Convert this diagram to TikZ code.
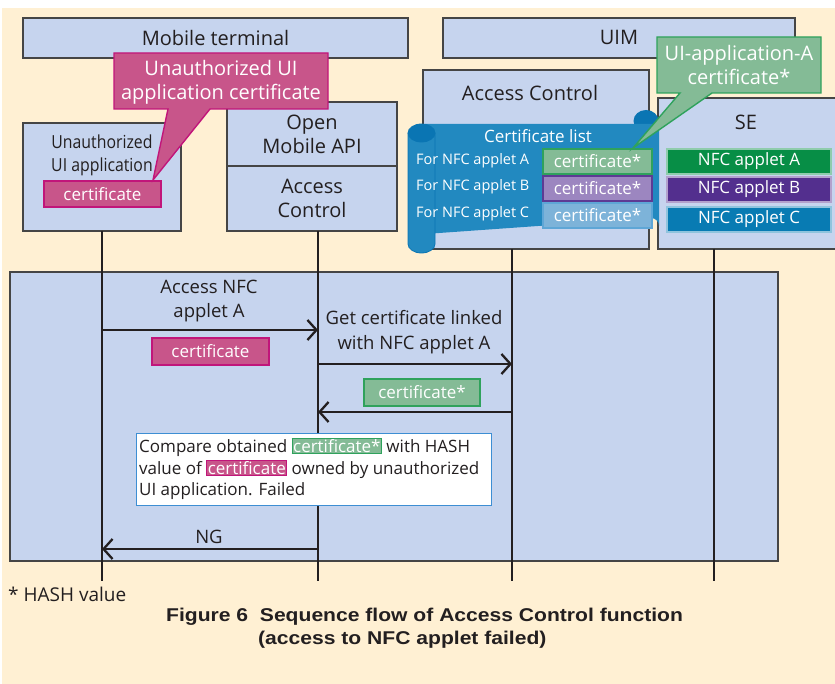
\documentclass[tikz,border=0pt]{standalone}
\usepackage{fontspec}
\setmainfont{Open Sans}
\newfontfamily\narrowfont{Open Sans}[FakeStretch=0.88]
\newfontfamily\captionfont{Liberation Sans}[FakeStretch=1.14]
\usetikzlibrary{arrows.meta}

\definecolor{cream}{HTML}{FFF0D3}
\definecolor{paleblue}{HTML}{C6D4EE}
\definecolor{edgegray}{HTML}{454545}
\definecolor{ink}{HTML}{231F20}
\definecolor{magfill}{HTML}{C8558A}
\definecolor{magedge}{HTML}{C1157A}
\definecolor{grnfill}{HTML}{84BB96}
\definecolor{grnedge}{HTML}{2FA25C}
\definecolor{purfill}{HTML}{9C86C0}
\definecolor{puredge}{HTML}{5D3B94}
\definecolor{skyfill}{HTML}{7DB3D9}
\definecolor{skyedge}{HTML}{5EA6D6}
\definecolor{scrollbody}{HTML}{2289C0}
\definecolor{scrolldark}{HTML}{0A75B3}
\definecolor{appA}{HTML}{078E46}
\definecolor{appB}{HTML}{532F8E}
\definecolor{appC}{HTML}{087BB3}
\definecolor{noteedge}{HTML}{3D8ED3}

\newcommand\fs[2]{\fontsize{#1}{#2}\selectfont}
\newcommand\certg[1]{{\setlength\fboxsep{0.5pt}\setlength\fboxrule{1pt}\fcolorbox{grnedge}{grnfill}{\color{white}#1}}}
\newcommand\certm[1]{{\setlength\fboxsep{0.5pt}\setlength\fboxrule{1pt}\fcolorbox{magedge}{magfill}{\color{white}#1}}}

\tikzset{
  frame/.style={draw=edgegray, fill=paleblue, line width=1.1pt, inner sep=0pt, outer sep=0pt, anchor=north west},
  label20/.style={text=ink, font=\fs{20}{24}, align=center, inner sep=0pt},
  tagbox/.style={anchor=north west, inner sep=0pt, outer sep=0pt, line width=1.4pt, text=white, font=\fs{17}{20}},
  appbox/.style={anchor=north west, inner sep=0pt, outer sep=0pt, line width=1.5pt, text=white, font=\fs{17}{20}, minimum width=164pt, minimum height=25pt},
  rowlabel/.style={anchor=west, text=white, font=\fs{14.5}{17}, inner sep=0pt},
  msg/.style={draw=ink, line width=2.3pt, -{Straight Barb[length=9pt,width=20pt]}},
  life/.style={draw=ink, line width=2pt},
  seqlabel/.style={text=ink, font=\fs{18.5}{24.5}, align=center, inner sep=0pt},
}

\begin{document}
\begin{tikzpicture}[x=1pt, y=-1pt]
  % page and background
  \useasboundingbox (0,0) rectangle (835,684);
  \fill[white] (0,0) rectangle (835,684);
  \fill[cream] (2,8) rectangle (835,684);

  % sequence area
  \node[frame, minimum width=768pt, minimum height=289pt] (seqarea) at (10,272) {};

  % top-level groups
  \node[frame, minimum width=385pt, minimum height=40pt, label20] (mobile) at (23,18) {};
  \node[label20] (mobiletxt) at (mobile.center) {Mobile terminal};
  \node[frame, minimum width=352pt, minimum height=40pt] (uim) at (443,18) {};
  \node[label20] (uimtxt) at (619,37) {UIM};

  % Unauthorized UI application
  \node[frame, minimum width=158pt, minimum height=108pt] (uiapp) at (23,123) {};
  \node[text=ink, font=\narrowfont\fs{18}{23}, align=center, inner sep=0pt] (uiapptxt) at (102,155) {Unauthorized\\UI application};
  \node[tagbox, draw=magedge, fill=magfill, minimum width=117pt, minimum height=26pt] (uicert) at (44,181) {certificate};

  % Open Mobile API / Access Control (terminal side)
  \node[frame, minimum width=170pt, minimum height=64pt, label20] (omapi) at (227,102) {Open\\Mobile API};
  \node[frame, minimum width=170pt, minimum height=65pt, label20] (omac) at (227,166) {Access\\Control};

  % Access Control (UIM side)
  \node[frame, minimum width=226pt, minimum height=179pt] (uimac) at (423,70) {};
  \node[label20] (uimactxt) at (530,93) {Access Control};

  % SE
  \node[frame, minimum width=190pt, minimum height=151pt] (se) at (658,98) {};
  \node[label20] (setxt) at (746,122) {SE};
  \node[appbox, fill=appA, draw=appA!45!white] (appletA) at (667,149) {NFC applet A};
  \node[appbox, fill=appB, draw=appB!45!white] (appletB) at (667,177) {NFC applet B};
  \node[appbox, fill=appC, draw=appC!45!white] (appletC) at (667,207) {NFC applet C};

  % certificate list drawn as a scroll
  \fill[scrolldark] (646,121) ellipse [x radius=12.5pt, y radius=11pt];
  \fill[scrollbody] (425,124) -- (659,124) -- (659,226) arc[start angle=0, end angle=90, radius=8pt] -- (425,234) -- cycle;
  \draw[scrolldark, fill=scrollbody, line width=0.8pt] (408,133) -- (408,244) arc[start angle=180, end angle=360, x radius=13.5pt, y radius=9pt] -- (435,133);
  \draw[scrolldark, fill=scrolldark, line width=0.8pt] (421.5,133) ellipse [x radius=13.5pt, y radius=9pt];
  \node[text=white, font=\fs{17}{20}, inner sep=0pt] (certlist) at (538,136) {Certificate list};
  \node[rowlabel] (forA) at (416,161) {For NFC applet A};
  \node[rowlabel] (forB) at (416,187) {For NFC applet B};
  \node[rowlabel] (forC) at (416,214) {For NFC applet C};
  \node[tagbox, fill=grnfill, draw=grnedge, minimum width=109pt, minimum height=25pt] (certA) at (543,149) {certificate*};
  \node[tagbox, fill=purfill, draw=puredge, minimum width=109pt, minimum height=25pt] (certB) at (543,176) {certificate*};
  \node[tagbox, fill=skyfill, draw=skyedge, minimum width=109pt, minimum height=25pt] (certC) at (543,203) {certificate*};

  % callouts
  \draw[magedge, fill=magfill, line width=1.4pt] (114,53) -- (328,53) -- (328,109) -- (210,109) -- (153,180) -- (168,109) -- (114,109) -- cycle;
  \node[text=white, font=\fs{20}{24}, align=center, inner sep=0pt] (uicallout) at (221,82) {Unauthorized UI\\application certificate};
  \draw[grnedge, fill=grnfill, line width=1.4pt] (657,37) -- (821,37) -- (821,93) -- (712,93) -- (633,148) -- (680,93) -- (657,93) -- cycle;
  \node[text=white, font=\fs{20}{24}, align=center, inner sep=0pt] (acallout) at (739,65) {UI-application-A\\certificate*};

  % lifelines
  \coordinate (uiEnd) at (102,581);
  \coordinate (omEnd) at (318,581);
  \coordinate (acEnd) at (512,581);
  \coordinate (seEnd) at (714,581);
  \draw[life] (uiapp.south) -- (uiEnd);
  \draw[life] (omEnd |- omac.south) -- (omEnd);
  \draw[life] (acEnd |- uimac.south) -- (acEnd);
  \draw[life] (seEnd |- se.south) -- (seEnd);

  % messages
  \coordinate (m1a) at (102,330);
  \coordinate (m1b) at (318,330);
  \coordinate (m2a) at (318,364);
  \coordinate (m2b) at (512,364);
  \coordinate (m3a) at (512,412);
  \coordinate (m3b) at (318,412);
  \coordinate (m4a) at (318,549);
  \coordinate (m4b) at (102,549);
  \draw[msg] (m1a) -- (m1b);
  \draw[msg] (m2a) -- (m2b);
  \draw[msg] (m3a) -- (m3b);
  \draw[msg] (m4a) -- (m4b);

  \node[seqlabel] (l1) at (209,301) {Access NFC\\applet A};
  \node[tagbox, fill=magfill, draw=magedge, minimum width=117pt, minimum height=27pt] (sendcert) at (152,338) {certificate};
  \node[seqlabel] (l2) at (414,332) {Get certificate linked\\with NFC applet A};
  \node[tagbox, fill=grnfill, draw=grnedge, minimum width=116pt, minimum height=27pt] (retcert) at (364,379) {certificate*};

  % comparison note
  \node[anchor=north west, draw=noteedge, fill=white, line width=1pt, minimum width=355pt, minimum height=72pt, inner sep=0pt] (note) at (136,433) {};
  \node[anchor=west, align=left, text=ink, font=\fs{17}{21.5}, inner sep=0pt] (notetxt) at (139,469) {Compare obtained \certg{certificate*} with HASH\\value of \certm{certificate} owned by unauthorized\\UI application. Failed};

  \node[seqlabel] (ng) at (209,537) {NG};

  % footnote and caption
  \node[anchor=west, text=ink, font=\fs{19}{22}, inner sep=0pt] (foot) at (8,594) {* HASH value};
  \node[anchor=west, text=ink, font=\captionfont\bfseries\fs{18.5}{22}, inner sep=0pt] (cap1) at (166,617) {Figure 6\ \ Sequence flow of Access Control function};
  \node[anchor=west, text=ink, font=\captionfont\bfseries\fs{18.5}{22}, inner sep=0pt] (cap2) at (258,640) {(access to NFC applet failed)};
\end{tikzpicture}
\end{document}
